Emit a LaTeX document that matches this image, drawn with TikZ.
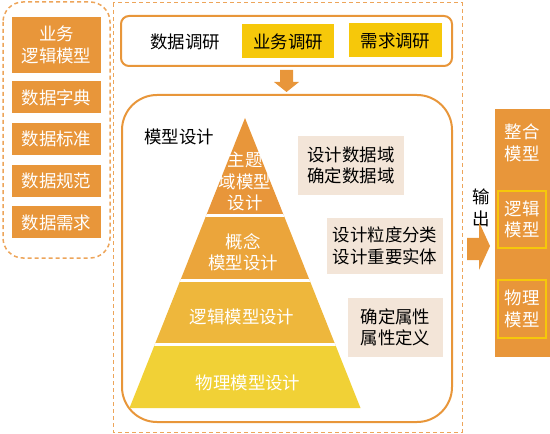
\documentclass[tikz,border=0pt]{standalone}
\usepackage{fontspec}
\setmainfont{Noto Sans CJK SC}
\definecolor{orng}{HTML}{E8963A}
\definecolor{dashc}{HTML}{EDA55A}
\definecolor{layb}{HTML}{EBA53B}
\definecolor{layc}{HTML}{EEB73C}
\definecolor{layd}{HTML}{F1D136}
\definecolor{ylw}{HTML}{F6C80A}
\definecolor{beige}{HTML}{F3E5D8}
\tikzset{
  lbox/.style={fill=orng,text=white,minimum width=89bp,inner sep=0pt,align=center},
  ybox/.style={fill=ylw,minimum height=34bp,minimum width=92bp,inner sep=0pt},
  note/.style={fill=beige,inner sep=0pt,align=center},
  outbox/.style={draw=ylw,line width=2bp,text=white,minimum width=48bp,minimum height=57bp,inner sep=0pt,align=center}
}

\begin{document}
\begin{tikzpicture}[x=1bp,y=-1bp,font=\fontsize{17.5}{21.5}\selectfont]
        \useasboundingbox (0,0) rectangle (550,434);
        % left column
        \draw[dashc,line width=1.5bp,dash pattern=on 4bp off 3bp,rounded corners=20bp] (3,2) rectangle (110,258);
        \node[lbox,minimum height=56bp] (biz) at (56.5,45) {业务\\逻辑模型};
        \foreach \y/\t [count=\i] in {97.5/数据字典,139/数据标准,181/数据规范,222.5/数据需求}
            \node[lbox,minimum height=32bp] (src\i) at (56.5,\y) {\t};
        % middle frame
        \draw[dashc,line width=1bp,dash pattern=on 4bp off 3bp] (113,3) rectangle (462,432);
        \draw[orng,line width=2bp,rounded corners=8bp] (121,16) rectangle (452,66);
        \node (survey) at (185,42) {数据调研};
        \node[ybox] (bizsv) at (288,41.5) {业务调研};
        \node[ybox,minimum width=93bp] (reqsv) at (395.5,40.5) {需求调研};
        \fill[orng] (280,70) -- (293,70) -- (293,82) -- (299,82) -- (286.5,92) -- (274,82) -- (280,82) -- cycle;
        \draw[orng,line width=2bp,rounded corners=35bp] (122,95) rectangle (452,422);
        \node (design) at (179,137) {模型设计};
        % pyramid
        \begin{scope}
            \clip (245,118) -- (129.5,408) -- (360.5,408) -- cycle;
            \fill[orng] (120,110) rectangle (370,215.5);
            \fill[layb] (120,215.5) rectangle (370,280.5);
            \fill[layc] (120,280.5) rectangle (370,344.5);
            \fill[layd] (120,344.5) rectangle (370,410);
            \draw[white,line width=3bp] (120,215.5) -- (370,215.5) (120,280.5) -- (370,280.5) (120,344.5) -- (370,344.5);
        \end{scope}
        \node[text=white,align=center] (lay1) at (245,181.5) {主题\\域模型\\设计};
        \node[text=white,align=center] (lay2) at (243,252) {概念\\模型设计};
        \node[text=white] (lay3) at (242,317) {逻辑模型设计};
        \node[text=white] (lay4) at (248,383) {物理模型设计};
        % notes
        \node[note,minimum width=106bp,minimum height=59bp] (note1) at (351,165.5) {设计数据域\\确定数据域};
        \node[note,minimum width=116bp,minimum height=56bp] (note2) at (385,246) {设计粒度分类\\设计重要实体};
        \node[note,minimum width=95bp,minimum height=59bp] (note3) at (395.5,327.5) {确定属性\\属性定义};
        % output
        \node[align=center] (out) at (481,208) {输\\出};
        \fill[orng] (467,238) -- (479,238) -- (479,222) -- (490,246) -- (479,270) -- (479,260) -- (467,260) -- cycle;
        \fill[orng] (495,109) rectangle (550,357);
        \node[text=white,align=center] (merge) at (522,143) {整合\\模型};
        \node[outbox] (logic) at (522,219.5) {逻辑\\模型};
        \node[outbox,minimum height=58bp] (phys) at (522,309) {物理\\模型};
    \end{tikzpicture}
\end{document}
